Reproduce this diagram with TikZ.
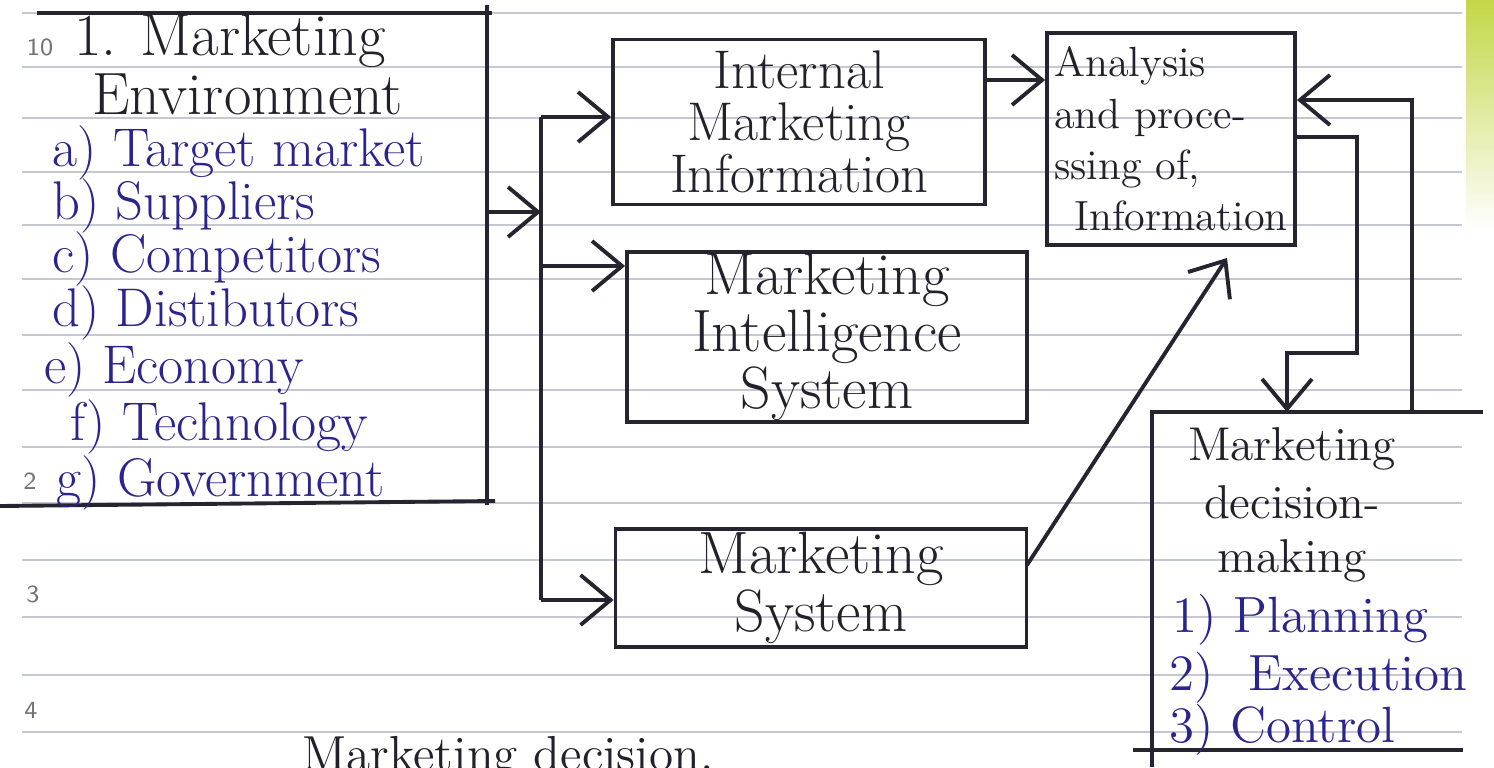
\documentclass[tikz,border=0pt]{standalone}
\usetikzlibrary{arrows.meta}

\definecolor{inkblack}{RGB}{35,32,42}
\definecolor{inkblue}{RGB}{42,36,140}
\definecolor{inkline}{RGB}{38,36,46}
\definecolor{rule}{RGB}{196,200,210}
\definecolor{leaf}{RGB}{196,214,70}

\begin{document}
\begin{tikzpicture}[x=0.1mm, y=-0.1mm,
         ink/.style = {draw=inkline, line width=1.1pt},
         arr/.style = {ink, -{Straight Barb[length=3mm,width=5mm]}},
         box/.style = {ink, rectangle, inner sep=0pt, text=inkblack, align=center},
         ruled/.style = {draw=rule, line width=0.6pt},
         item/.style = {text=inkblue, anchor=base west},
         pnum/.style = {text=black!55, font=\sffamily\fontsize{7}{8}\selectfont},
         ]
\useasboundingbox (0,0) rectangle (1494,767);
\shade[top color=leaf, bottom color=white] (1466,0) rectangle (1494,230);

% notebook rules
\foreach \yy in {13,67,118,172,225,279,335,390,447,503,560,617,675,732}
  \draw[ruled] (22,\yy) -- (1462,\yy);
\node[pnum] (p10) at (40,47) {10};
\node[pnum] (p2) at (30,481) {2};
\node[pnum] (p3) at (33,594) {3};
\node[pnum] (p4) at (31,710) {4};

% marketing environment
\draw[ink] (37,13) -- (492,13);
\draw[ink] (487,5) -- (487,505);
\draw[ink] (0,506) -- (495,501);
\node[text=inkblack, anchor=base west, font=\fontsize{17}{20}\selectfont] (envhead) at (62,56) {1. Marketing};
\node[text=inkblack, anchor=base west, font=\fontsize{17}{20}\selectfont] (envhead2) at (80,114) {Environment};
\foreach \t/\xx/\yy [count=\i] in {a) Target market/40/166, b) Suppliers/40/219,
    c) Competitors/40/272, d) Distibutors/40/326, e) Economy/32/383,
    f) Technology/58/440, g) Government/44/496}
  \node[item, font=\fontsize{15.5}{17}\selectfont] (env\i) at (\xx,\yy) {\t};

% boxes
\node[box, minimum width=37.2mm, minimum height=16.5mm,
      font=\fontsize{15.5}{14.8}\selectfont] (imi) at (799,122) {Internal\\Marketing\\Information};
\node[box, minimum width=24.8mm, minimum height=21.2mm, align=left,
      font=\fontsize{12}{14.6}\selectfont] (api) at (1171,139) {Analysis\\and proce-\\ssing of,\\\hspace{2mm}Information};
\node[box, minimum width=40mm, minimum height=17mm,
      font=\fontsize{17}{15}\selectfont] (mis) at (827,337) {Marketing\\Intelligence\\System};
\node[box, minimum width=41.1mm, minimum height=11.8mm,
      font=\fontsize{17}{15}\selectfont] (ms) at (821,588) {Marketing\\System};

% decision making
\draw[ink] (1152,767) -- (1152,412) -- (1483,412);
\draw[ink] (1133,750) -- (1463,750);
\foreach \t/\yy [count=\i] in {Marketing/460, decision-/518, making/572}
  \node[text=inkblack, anchor=base, font=\fontsize{13.5}{15}\selectfont] (mdm\i) at (1292,\yy) {\t};
\foreach \t/\xx/\yy [count=\i] in {1) Planning/1160/632, 2)\hspace{3.5mm}Execution/1157/690, 3) Control/1157/742}
  \node[item, font=\fontsize{14.5}{16}\selectfont] (mdl\i) at (\xx,\yy) {\t};
\coordinate (mdin) at (1287,412);
\coordinate (mdout) at (1412,412);

\node[text=inkblack, anchor=base west, font=\fontsize{14}{16}\selectfont] (mdnote) at (290,770) {Marketing decision,};

% connectors
\coordinate (envR) at (487,212);
\coordinate (t1) at (541,117);
\coordinate (t2) at (541,212);
\coordinate (t3) at (541,266);
\coordinate (t4) at (541,600);
\draw[ink] (t1) -- (t4);
\draw[arr] (envR) -- (t2);
\draw[arr] (t1) -- (t1 -| imi.west);
\draw[arr] (t3) -- (t3 -| mis.west);
\draw[arr] (t4) -- (t4 -| ms.west);

\coordinate (c12) at (985,80);
\draw[arr] (c12 -| imi.east) -- (c12 -| api.west);
\coordinate (msout) at (1027,565);
\coordinate (apin) at (1227,258);
\draw[arr] (msout) -- (apin);

\coordinate (lp1) at (1357,137);
\draw[arr] (lp1 -| api.east) -- (lp1) -- (1357,353) -- (1287,353) -- (mdin);
\coordinate (lp2) at (1412,100);
\draw[arr] (mdout) -- (lp2) -- (lp2 -| api.east);
\end{tikzpicture}
\end{document}
